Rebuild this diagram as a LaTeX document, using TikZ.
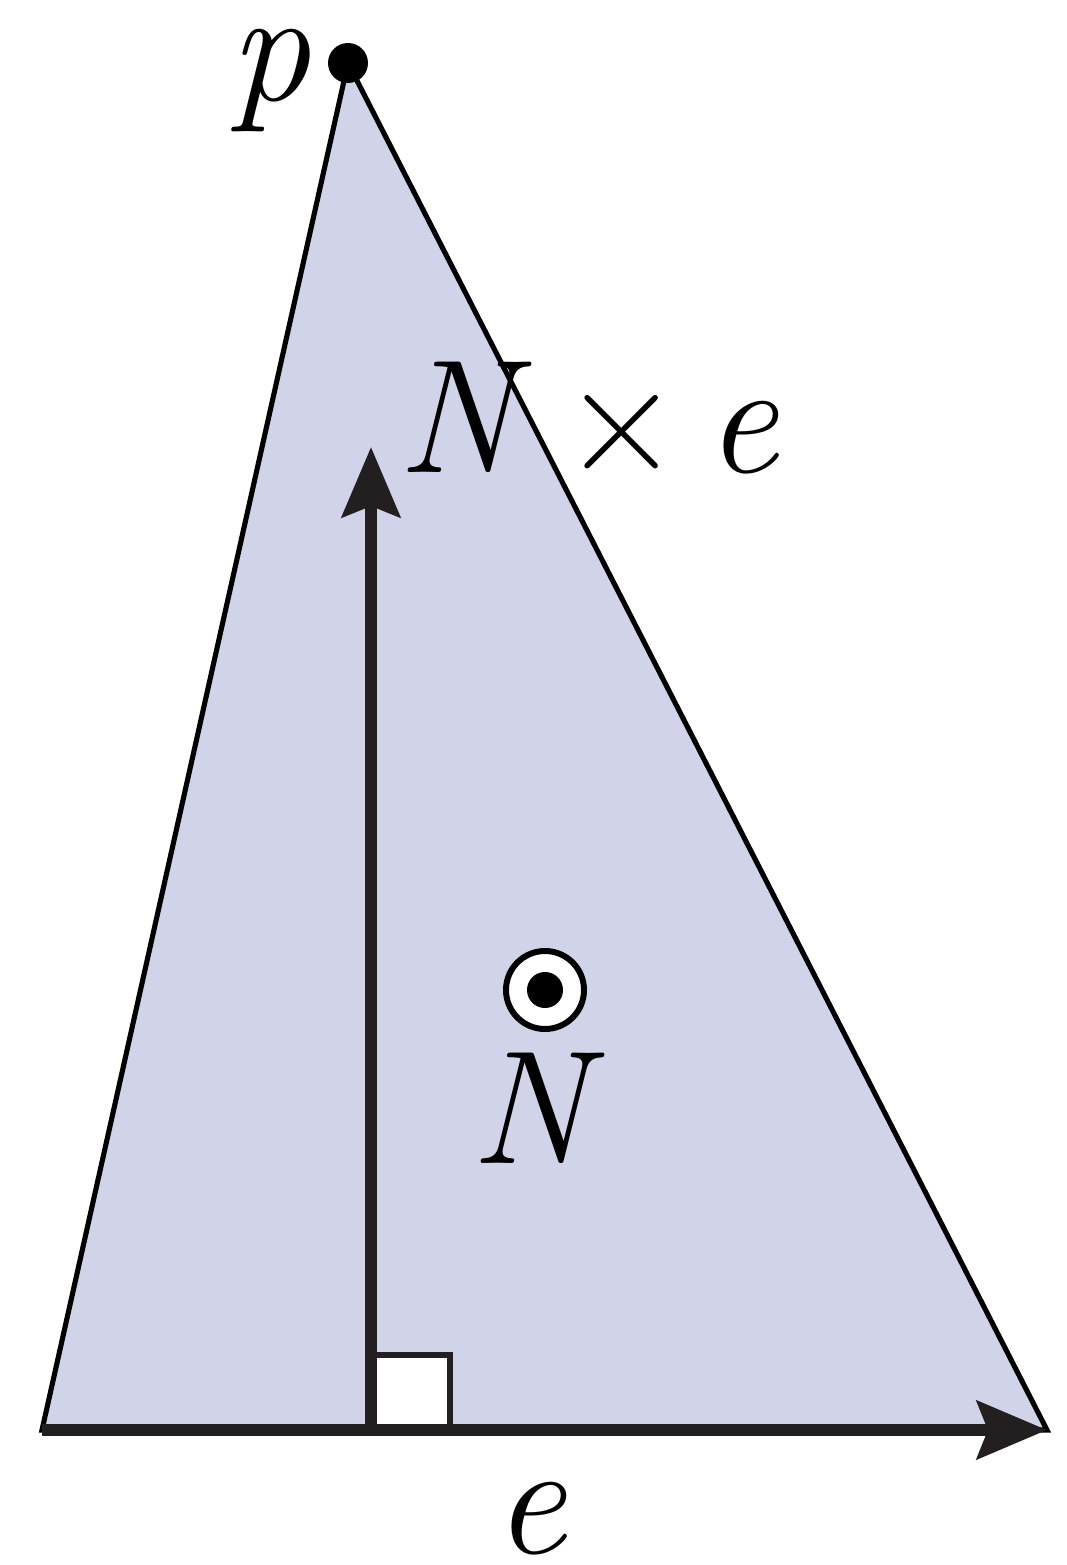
\documentclass[tikz,border=0pt]{standalone}
\usepackage{tikz}
\usetikzlibrary{arrows.meta,positioning,calc}
\definecolor{facefill}{HTML}{D1D3E8}
\definecolor{ink}{HTML}{231F20}

\begin{document}
\begin{tikzpicture}[x=0.1mm,y=-0.1mm,>=Latex,
  face/.style={fill=facefill,draw=black,line width=1.45pt,line join=miter},
  vec/.style={-{Stealth[length=7mm,width=5.8mm,inset=1.1mm]},line width=3.3pt,color=ink},
  rightangle/.style={fill=white,draw=ink,line width=1.7pt},
  lbl/.style={font=\fontsize{46}{50}\selectfont\itshape,inner sep=0pt}]
  \useasboundingbox (0,0) rectangle (1066,1565);
  \coordinate (apex) at (348,63);
  \coordinate (bl) at (42,1430);
  \coordinate (br) at (1047,1430);
  \coordinate (foot) at (371,1430);
  \coordinate (up) at (371,447);
  \path[face] (apex) -- (bl) -- (br) -- cycle;
  \draw[rightangle] (foot) rectangle (450,1355);
  \draw[vec] (foot) -- (up);
  \draw[vec] (bl) -- (br);
  \node[circle,fill=black,minimum size=4mm,inner sep=0pt] (p) at (apex) {};
  \node[lbl,left=1.6mm of p,yshift=-1.8mm] (plabel) {p};
  \node[lbl,anchor=base] (cross) at (588,472) {N\hspace{0.3em}{\upshape ×}\hspace{0.16em}e};
  \node[circle,draw=black,fill=white,line width=1.7pt,minimum size=7.8mm,inner sep=0pt] (odot) at (545,990) {};
  \node[circle,fill=black,minimum size=3.6mm,inner sep=0pt] at (odot) {};
  \node[lbl,below=2mm of odot,xshift=-1.6mm] (nlabel) {N};
  \node[lbl,anchor=base] (elabel) at (530,1553) {e};
\end{tikzpicture}
\end{document}
